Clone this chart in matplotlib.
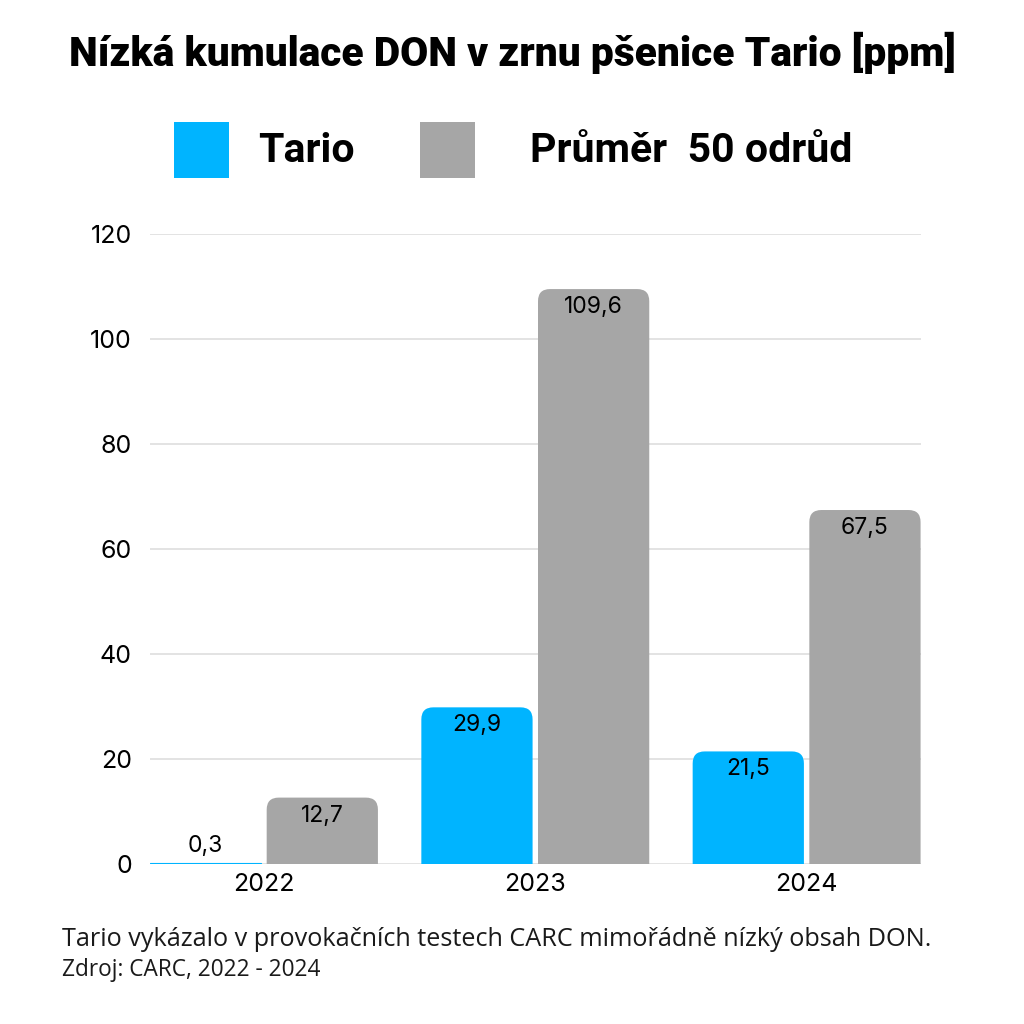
import matplotlib
matplotlib.use("Agg")
import matplotlib.pyplot as plt
from matplotlib.patches import FancyBboxPatch, Rectangle

BLUE = "#00b4ff"
GRAY = "#a6a6a6"
GRID = "#dedede"

YEARS = ["2022", "2023", "2024"]
TARIO = [0.3, 29.9, 21.5]
AVG50 = [12.7, 109.6, 67.5]
SERIES = ["Tario", "Průměr  50 odrůd"]
YTICKS = [0, 20, 40, 60, 80, 100, 120]

BAR_W = 0.41
GAP = 0.02

fig = plt.figure(figsize=(10.24, 10.24), dpi=100)
ax = fig.add_axes([0.1465, 0.156, 0.7525, 0.615])
ax.set_xlim(-0.42, 2.42)
ax.set_ylim(0, 120)

# px per data unit, used to keep the rounded corners circular
x_px = 0.7525 * 1024 / 2.84
y_px = 0.615 * 1024 / 120
r = 12 / x_px
aspect = x_px / y_px


def rounded_bar(x0, h, color):
    # tiny bars get square corners; others start below zero so the
    # bottom corners are clipped away
    if h < 3:
        ax.bar(x0, h, BAR_W, align="edge", color=color, edgecolor=color,
               linewidth=0.8, zorder=3)
        return
    base = -4
    p = FancyBboxPatch((x0, base), BAR_W, h - base,
                       boxstyle=f"round,pad=0,rounding_size={r}",
                       mutation_aspect=aspect, fc=color, ec="none",
                       zorder=3, clip_on=True)
    ax.add_patch(p)


for i, (t, a) in enumerate(zip(TARIO, AVG50)):
    xt = i - GAP / 2 - BAR_W
    xa = i + GAP / 2
    rounded_bar(xt, t, BLUE)
    rounded_bar(xa, a, GRAY)
    for x0, v in ((xt, t), (xa, a)):
        lbl = f"{v:.1f}".replace(".", ",")
        if v < 8:
            ax.annotate(lbl, (x0 + BAR_W / 2, v), textcoords="offset points",
                        xytext=(0, 4), ha="center", va="bottom",
                        fontsize=16.5, family="Inter", zorder=5)
        else:
            ax.annotate(lbl, (x0 + BAR_W / 2, v), textcoords="offset points",
                        xytext=(0, -5), ha="center", va="top",
                        fontsize=16.5, family="Inter", zorder=5)

ax.set_yticks(YTICKS)
ax.set_yticklabels([str(v) for v in YTICKS], fontsize=18, family="Inter")
ax.set_xticks(range(len(YEARS)))
ax.set_xticklabels(YEARS, fontsize=18, family="Inter")
ax.tick_params(length=0)
ax.tick_params(axis="y", pad=13)
ax.tick_params(axis="x", pad=6)
ax.grid(axis="y", color=GRID, lw=1.2, zorder=0)
for s in ax.spines.values():
    s.set_visible(False)

fig.text(0.5, 0.948, "Nízká kumulace DON v zrnu pšenice Tario [ppm]",
         ha="center", va="center", fontsize=29.3, fontweight="heavy",
         family="Roboto")

# legend
for x0, col, txt, tx in ((174, BLUE, SERIES[0], 258), (420, GRAY, SERIES[1], 530)):
    fig.patches.append(Rectangle((x0 / 1024, 1 - 178 / 1024), 55 / 1024, 56 / 1024,
                                 transform=fig.transFigure, fc=col, ec="none"))
    fig.text(tx / 1024, 1 - 151 / 1024, txt, ha="left", va="center",
             fontsize=29.5, fontweight="bold", family="Roboto")

fig.text(62 / 1024, 1 - 940 / 1024,
         "Tario vykázalo v provokačních testech CARC mimořádně nízký obsah DON.",
         ha="left", va="center", fontsize=18.2, family="Open Sans", color="#1a1a1a")
fig.text(62 / 1024, 1 - 970 / 1024, "Zdroj: CARC, 2022 - 2024",
         ha="left", va="center", fontsize=16.3, family="Open Sans", color="#1a1a1a")

fig.savefig("out.png")
